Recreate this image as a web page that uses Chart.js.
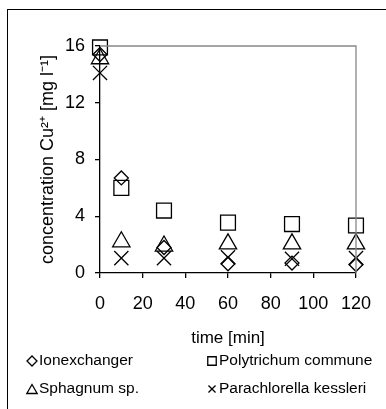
<!DOCTYPE html>
<html>
<head>
<meta charset="utf-8">
<script src="https://cdn.jsdelivr.net/npm/chart.js@4.4.1/dist/chart.umd.min.js"></script>
<style>
    body { margin: 0; background: #fff; overflow: hidden; }
    #wrap { position: relative; width: 386px; height: 409px; }
    #frame { position: absolute; left: 7px; top: 9px; width: 400px; height: 420px; border: 1.5px solid #000; box-sizing: border-box; }
    #KineticsChart { position: absolute; left: 0; top: 0; }
</style>
</head>
<body>
<div id="wrap">
    <div id="frame"></div>
    <canvas id="KineticsChart" width="386" height="409"></canvas>
</div>
<script>
// time points [min]
var times = [0, 10, 30, 60, 90, 120];

// Cu2+ concentration [mg l-1]
var ionexchanger = [15.4, 6.7, 1.8, 0.65, 0.7, 0.6];
var polytrichum = [15.9, 6.0, 4.4, 3.55, 3.45, 3.35];
var sphagnum = [15.1, 2.2, 1.9, 2.05, 2.05, 2.05];
var parachlorella = [14.1, 1.05, 1.05, 1.1, 1.0, 1.05];

var seriesNames = ['Ionexchanger', 'Polytrichum commune', 'Sphagnum sp.', 'Parachlorella kessleri'];
var xTicks = [0, 20, 40, 60, 80, 100, 120];
var yTicks = [0, 4, 8, 12, 16];

function toPoints(values) {
    var pts = [];
    for (var i = 0; i < times.length; i++) {
        pts[i] = { x: times[i], y: values[i] };
    }
    return pts;
}

function makeSet(label, values, style, radius) {
    return {
        label: label,
        data: toPoints(values),
        showLine: false,
        pointStyle: style,
        pointRadius: radius,
        pointHoverRadius: radius,
        pointBorderWidth: 1.3,
        borderColor: '#000',
        backgroundColor: 'rgba(0,0,0,0)',
        clip: false
    };
}

// grey top / right border of the plot area + two-column legend below
var frameAndLegend = {
    id: 'frameAndLegend',
    afterDatasetsDraw: function (chart) {
        var ctx = chart.ctx;
        var a = chart.chartArea;
        ctx.save();
        ctx.strokeStyle = '#888';
        ctx.lineWidth = 1.3;
        ctx.beginPath();
        ctx.moveTo(a.left, a.top);
        ctx.lineTo(a.right, a.top);
        ctx.lineTo(a.right, a.bottom);
        ctx.stroke();
        ctx.restore();
    },
    afterDraw: function (chart) {
        var ctx = chart.ctx;
        var cols = [32, 212];
        var rows = [361, 389];
        var sizes = [5, 6, 6, 5];
        ctx.save();
        ctx.font = '15.5px "Liberation Sans", Arial, sans-serif';
        ctx.textBaseline = 'middle';
        ctx.textAlign = 'left';
        chart.data.datasets.forEach(function (ds, i) {
            var x = cols[i % 2];
            var y = rows[Math.floor(i / 2)];
            ctx.strokeStyle = '#000';
            ctx.fillStyle = 'rgba(0,0,0,0)';
            Chart.helpers.drawPoint(ctx, {
                pointStyle: ds.pointStyle,
                radius: sizes[i],
                borderWidth: 1.5
            }, x, y + (ds.pointStyle === 'triangle' ? 1.5 : 0));
            ctx.fillStyle = '#000';
            ctx.fillText(ds.label, x + 7, y);
        });
        ctx.restore();
    }
};

function KineticsChart() {
    new Chart(document.getElementById('KineticsChart'), {
        type: 'scatter',
        data: {
            datasets: [
                makeSet(seriesNames[0], ionexchanger, 'rectRot', 7),
                makeSet(seriesNames[1], polytrichum, 'rect', 10.5),
                makeSet(seriesNames[2], sphagnum, 'triangle', 10),
                makeSet(seriesNames[3], parachlorella, 'crossRot', 10)
            ]
        },
        plugins: [frameAndLegend],
        options: {
            responsive: false,
            animation: false,
            layout: {
                padding: { left: 0, top: 46, right: 30, bottom: 60 }
            },
            plugins: {
                legend: { display: false },
                tooltip: { enabled: false }
            },
            scales: {
                x: {
                    type: 'linear',
                    min: 0,
                    max: 120,
                    afterBuildTicks: function (scale) {
                        scale.ticks = xTicks.map(function (v) { return { value: v }; });
                    },
                    afterFit: function (scale) { scale.height = 76; },
                    grid: {
                        drawOnChartArea: false,
                        drawTicks: true,
                        tickLength: 5,
                        color: '#000',
                        lineWidth: 1.3
                    },
                    border: { display: true, color: '#000', width: 1.3 },
                    ticks: {
                        color: '#000',
                        padding: 15,
                        maxRotation: 0,
                        font: { family: '"Liberation Sans", Arial, sans-serif', size: 18 }
                    },
                    title: {
                        display: true,
                        text: 'time [min]',
                        color: '#000',
                        padding: 0,
                        font: { family: '"Liberation Sans", Arial, sans-serif', size: 17 }
                    }
                },
                y: {
                    type: 'linear',
                    min: 0,
                    max: 16,
                    afterBuildTicks: function (scale) {
                        scale.ticks = yTicks.map(function (v) { return { value: v }; });
                    },
                    afterFit: function (scale) { scale.width = 100; },
                    grid: {
                        drawOnChartArea: false,
                        drawTicks: true,
                        tickLength: 5,
                        color: '#000',
                        lineWidth: 1.3
                    },
                    border: { display: true, color: '#000', width: 1.3 },
                    ticks: {
                        color: '#000',
                        padding: 10,
                        font: { family: '"Liberation Sans", Arial, sans-serif', size: 18 }
                    },
                    title: {
                        display: true,
                        text: 'concentration Cu\u00B2\u207A [mg l\u207B\u00B9]',
                        color: '#000',
                        padding: { top: 37, bottom: 0 },
                        font: { family: '"Liberation Sans", Arial, sans-serif', size: 18 }
                    }
                }
            }
        }
    });
}

KineticsChart();
</script>
</body>
</html>
